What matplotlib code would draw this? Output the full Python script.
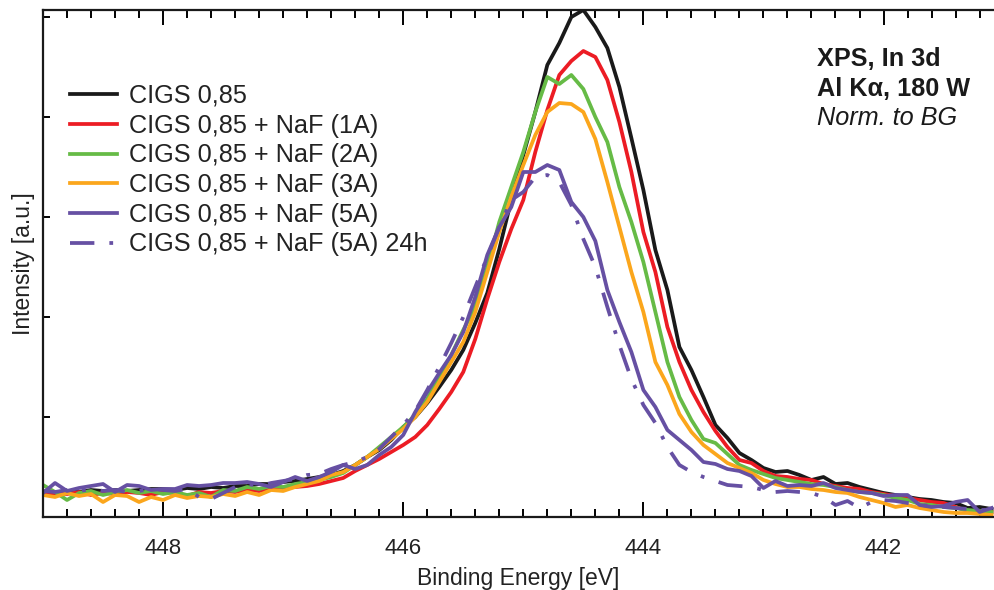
import numpy as np
import matplotlib
matplotlib.use("Agg")
import matplotlib.pyplot as plt
from matplotlib.ticker import MultipleLocator, NullFormatter

plt.rcParams['font.family'] = ['Liberation Sans', 'DejaVu Sans']

# Binding energy grid (eV), 449.0 -> 441.1 in 0.1 eV steps
energy = [round(449.0 - 0.1 * i, 1) for i in range(80)]

cigs = [0.25, 0.24, 0.26, 0.25, 0.27, 0.26, 0.27, 0.26, 0.27, 0.28,
        0.28, 0.27, 0.29, 0.28, 0.30, 0.29, 0.31, 0.31, 0.33, 0.33,
        0.35, 0.36, 0.38, 0.40, 0.42, 0.46, 0.52, 0.60, 0.67, 0.77,
        0.90, 1.00, 1.14, 1.30, 1.47, 1.67, 1.94, 2.24, 2.68, 3.17,
        3.62, 4.05, 4.52, 4.74, 5.00, 5.07, 4.90, 4.69, 4.30, 3.79,
        3.27, 2.67, 2.27, 1.70, 1.47, 1.20, 0.92, 0.79, 0.64, 0.57,
        0.49, 0.45, 0.46, 0.42, 0.37, 0.40, 0.33, 0.34, 0.30, 0.27,
        0.24, 0.22, 0.20, 0.18, 0.17, 0.15, 0.14, 0.09, 0.10, 0.08]

naf1 = [0.22, 0.24, 0.23, 0.25, 0.22, 0.24, 0.23, 0.25, 0.24, 0.22,
        0.25, 0.24, 0.21, 0.25, 0.24, 0.26, 0.25, 0.27, 0.26, 0.28,
        0.29, 0.30, 0.31, 0.33, 0.36, 0.39, 0.46, 0.52, 0.58, 0.65,
        0.72, 0.80, 0.92, 1.08, 1.25, 1.45, 1.78, 2.18, 2.55, 2.88,
        3.17, 3.65, 4.07, 4.42, 4.56, 4.66, 4.60, 4.37, 3.95, 3.45,
        2.85, 2.45, 1.90, 1.55, 1.27, 1.05, 0.86, 0.70, 0.57, 0.54,
        0.46, 0.41, 0.40, 0.38, 0.37, 0.33, 0.31, 0.29, 0.28, 0.25,
        0.23, 0.21, 0.19, 0.17, 0.15, 0.14, 0.10, 0.06, 0.05, 0.05]

naf2 = [0.32, 0.25, 0.17, 0.24, 0.26, 0.22, 0.25, 0.27, 0.24, 0.26,
        0.23, 0.25, 0.22, 0.24, 0.20, 0.27, 0.26, 0.30, 0.28, 0.31,
        0.30, 0.33, 0.35, 0.37, 0.40, 0.44, 0.52, 0.60, 0.70, 0.80,
        0.90, 1.02, 1.18, 1.40, 1.62, 1.87, 2.10, 2.50, 2.95, 3.30,
        3.65, 4.05, 4.40, 4.33, 4.42, 4.28, 4.00, 3.75, 3.30, 2.95,
        2.55, 2.05, 1.55, 1.20, 0.97, 0.78, 0.74, 0.63, 0.52, 0.47,
        0.43, 0.39, 0.37, 0.35, 0.33, 0.32, 0.30, 0.27, 0.25, 0.24,
        0.22, 0.19, 0.17, 0.13, 0.12, 0.10, 0.09, 0.07, 0.06, 0.05]

naf3 = [0.22, 0.20, 0.24, 0.21, 0.23, 0.15, 0.22, 0.21, 0.15, 0.20,
        0.17, 0.22, 0.19, 0.21, 0.20, 0.23, 0.21, 0.25, 0.22, 0.27,
        0.26, 0.30, 0.33, 0.36, 0.42, 0.45, 0.52, 0.60, 0.68, 0.78,
        0.88, 1.00, 1.15, 1.35, 1.55, 1.75, 2.05, 2.45, 2.85, 3.20,
        3.52, 3.82, 4.05, 4.14, 4.13, 4.05, 3.78, 3.35, 2.90, 2.45,
        2.05, 1.55, 1.32, 1.03, 0.85, 0.72, 0.63, 0.54, 0.49, 0.44,
        0.37, 0.33, 0.30, 0.30, 0.28, 0.27, 0.25, 0.24, 0.20, 0.17,
        0.14, 0.10, 0.12, 0.09, 0.07, 0.05, 0.04, 0.04, 0.03, 0.02]

naf5 = [0.24, 0.34, 0.26, 0.29, 0.31, 0.33, 0.25, 0.32, 0.31, 0.27,
        0.28, 0.28, 0.32, 0.31, 0.32, 0.34, 0.34, 0.35, 0.33, 0.30,
        0.35, 0.40, 0.36, 0.40, 0.45, 0.52, 0.48, 0.52, 0.62, 0.70,
        0.82, 1.05, 1.25, 1.44, 1.62, 1.85, 2.20, 2.62, 2.90, 3.10,
        3.45, 3.45, 3.52, 3.47, 3.15, 3.00, 2.76, 2.27, 1.95, 1.65,
        1.27, 1.10, 0.87, 0.77, 0.67, 0.55, 0.53, 0.48, 0.46, 0.41,
        0.29, 0.36, 0.31, 0.32, 0.31, 0.34, 0.29, 0.27, 0.25, 0.24,
        0.21, 0.22, 0.22, 0.12, 0.10, 0.11, 0.15, 0.17, 0.05, 0.09]

naf5_24h = [0.26, 0.25, 0.27, 0.26, 0.28, 0.26, 0.27, 0.25, 0.26, 0.28,
            0.27, 0.26, 0.28, 0.20, 0.18, 0.24, 0.30, 0.33, 0.31, 0.34,
            0.36, 0.38, 0.42, 0.43, 0.48, 0.52, 0.55, 0.60, 0.68, 0.80,
            0.92, 1.06, 1.27, 1.50, 1.74, 2.00, 2.30, 2.60, 2.90, 3.17,
            3.25, 3.40, 3.42, 3.35, 3.12, 2.78, 2.50, 2.10, 1.72, 1.38,
            1.12, 0.94, 0.70, 0.52, 0.45, 0.40, 0.36, 0.32, 0.31, 0.30,
            0.27, 0.25, 0.26, 0.25, 0.24, 0.20, 0.12, 0.16, 0.09, 0.15,
            0.17, 0.16, 0.14, 0.12, 0.11, 0.10, 0.09, 0.08, 0.07, 0.07]

labels = ["CIGS 0,85", "CIGS 0,85 + NaF (1A)", "CIGS 0,85 + NaF (2A)",
          "CIGS 0,85 + NaF (3A)", "CIGS 0,85 + NaF (5A)",
          "CIGS 0,85 + NaF (5A) 24h"]
colors = ["#1a1a1a", "#ec1c24", "#66bb46", "#fba61c", "#6650a3", "#6650a3"]

fig = plt.figure(figsize=(9.94, 5.90), dpi=100)
ax = fig.add_axes([43 / 994, 73 / 590, 951 / 994, 507 / 590])

series = [cigs, naf1, naf2, naf3, naf5]
lw = 2.7
for s, c, l in zip(series, colors[:5], labels[:5]):
    ax.plot(energy, s, color=c, lw=lw, label=l)
ax.plot(energy, naf5_24h, color=colors[5], lw=lw, label=labels[5],
        linestyle=(0, (6.5, 4, 1, 4)), dash_capstyle='butt')

ax.set_xlim(449.0, 441.08)
ax.set_ylim(0, 5.07)

ax.xaxis.set_major_locator(MultipleLocator(2))
ax.xaxis.set_minor_locator(MultipleLocator(0.2))
ax.yaxis.set_major_locator(MultipleLocator(1))
ax.yaxis.set_major_formatter(NullFormatter())

ax.tick_params(axis='x', which='major', direction='in', length=11, width=1.4,
               top=True, bottom=True, labelsize=16, pad=15, labelcolor='#222222')
ax.tick_params(axis='x', which='minor', direction='in', length=5.5, width=1.4,
               top=True, bottom=True)
ax.tick_params(axis='y', which='major', direction='in', length=5, width=1.4,
               left=True, right=False)
for side in ['left', 'top', 'bottom']:
    ax.spines[side].set_linewidth(1.6)
    ax.spines[side].set_color('#1a1a1a')
ax.spines['right'].set_visible(False)

ax.set_xlabel("Binding Energy [eV]", fontsize=16.5, color='#222222', labelpad=6)
ax.set_ylabel("Intensity [a.u.]", fontsize=16.5, color='#222222', labelpad=2)

leg = ax.legend(loc='upper left', bbox_to_anchor=(27 / 951, 1 - 74 / 507),
                frameon=False, fontsize=18.2, handlelength=1.86,
                handletextpad=0.47, labelspacing=0.225, borderaxespad=0,
                borderpad=0)
for t in leg.get_texts():
    t.set_color('#222222')

fig.text(817 / 994, 1 - 59 / 590, "XPS, In 3d", fontsize=18.2, fontweight='bold',
         va='center', ha='left', color='#1a1a1a')
fig.text(817 / 994, 1 - 89 / 590, "Al K\u03b1, 180 W", fontsize=18.2, fontweight='bold',
         va='center', ha='left', color='#1a1a1a')
fig.text(817 / 994, 1 - 118 / 590, "Norm. to BG", fontsize=18.2, fontstyle='italic',
         va='center', ha='left', color='#1a1a1a')

fig.savefig("out.png", dpi=100)
